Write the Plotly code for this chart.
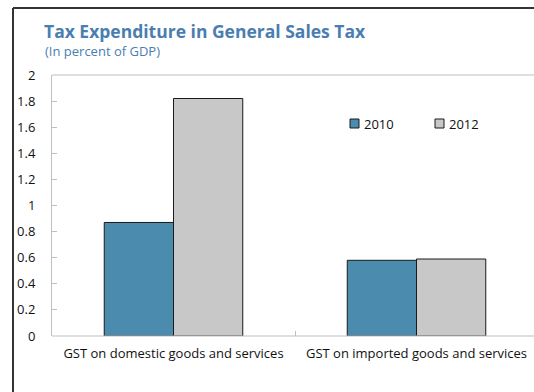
import plotly.graph_objects as go

# Data
categories = ["GST on domestic goods and services", "GST on imported goods and services"]
years = ["2010", "2012"]
values_2010 = [0.87, 0.58]
values_2012 = [1.82, 0.59]
y_ticks = [0, 0.2, 0.4, 0.6, 0.8, 1, 1.2, 1.4, 1.6, 1.8, 2]
y_tick_text = ["0", "0.2", "0.4", "0.6", "0.8", "1", "1.2", "1.4", "1.6", "1.8", "2"]

W, H = 534, 392
ML, MR, MT, MB = 52, 0, 75, 56
PW, PH = W - ML - MR, H - MT - MB

def px_x(x):
    return (x - ML) / PW

def px_y(y):
    return (H - MB - y) / PH

FONT = "Open Sans"
TITLE_BLUE = "#4a7eb0"
BAR_BLUE = "#4b8bae"
BAR_GRAY = "#c8c8c8"
EDGE = "#1a1a1a"
bar_colors = [BAR_BLUE, BAR_GRAY]

x_pos = list(range(len(categories)))

fig = go.Figure()
for name, vals, col in zip(years, [values_2010, values_2012], bar_colors):
    fig.add_trace(go.Bar(
        x=x_pos, y=vals, name=name, showlegend=False,
        marker=dict(color=col, line=dict(color=EDGE, width=1)),
    ))

cat_unit = 243.0
x_end = -0.5 + PW / cat_unit

# Compact legend: small square swatch followed closely by the year label
legend_shapes = []
legend_notes = []
legend_x = [350, 435]
for name, col, lx in zip(years, bar_colors, legend_x):
    legend_shapes.append(dict(
        type="rect", xref="paper", yref="paper",
        x0=px_x(lx), x1=px_x(lx + 9), y0=px_y(128), y1=px_y(119),
        fillcolor=col, line=dict(color=EDGE, width=1),
    ))
    legend_notes.append(dict(
        text=name, xref="paper", yref="paper", x=px_x(lx + 12), y=px_y(123.5),
        xanchor="left", yanchor="middle", showarrow=False,
        font=dict(family=FONT, size=13, color="#111"),
    ))

fig.update_layout(
    width=W, height=H,
    margin=dict(l=ML, r=MR, t=MT, b=MB, pad=0, autoexpand=False),
    paper_bgcolor="white", plot_bgcolor="white",
    barmode="group", bargap=0.43, bargroupgap=0,
    font=dict(family=FONT, size=13, color="#222"),
    showlegend=False,
    xaxis=dict(
        range=[-0.5, x_end], tickmode="array", tickvals=x_pos, ticktext=categories,
        ticks="", showgrid=False, zeroline=False, tickangle=0, automargin=False,
        showline=False,
        tickfont=dict(size=13, color="#111"), ticklabelstandoff=8,
        minor=dict(tickvals=[0.5], ticks="inside", ticklen=5, tickcolor="#bfbfbf", showgrid=False),
    ),
    yaxis=dict(
        range=[0, 2], tickmode="array", tickvals=y_ticks, ticktext=y_tick_text,
        ticks="inside", ticklen=5, tickcolor="#bfbfbf", automargin=False,
        showgrid=False, zeroline=False,
        showline=True, linecolor="#bfbfbf", linewidth=1,
        tickfont=dict(size=13, color="#111"), ticklabelstandoff=13,
    ),
    annotations=[
        dict(text="<b>Tax Expenditure in General Sales Tax</b>", xref="paper", yref="paper",
             x=px_x(42), y=px_y(31), xanchor="left", yanchor="middle", showarrow=False,
             font=dict(family=FONT, size=17.5, color=TITLE_BLUE)),
        dict(text="(In percent of GDP)", xref="paper", yref="paper",
             x=px_x(43), y=px_y(51), xanchor="left", yanchor="middle", showarrow=False,
             font=dict(family=FONT, size=13, color=TITLE_BLUE)),
    ] + legend_notes,
    shapes=[
        # outer frame: top and left edges
        dict(type="line", xref="paper", yref="paper", x0=px_x(13), x1=1.0,
             y0=px_y(8), y1=px_y(8), line=dict(color="#333", width=2)),
        dict(type="line", xref="paper", yref="paper", x0=px_x(13), x1=px_x(13),
             y0=px_y(8), y1=px_y(392), line=dict(color="#333", width=2)),
        # plot-area border: top and bottom edges
        dict(type="line", xref="paper", yref="paper", x0=0, x1=1.0, y0=1, y1=1,
             line=dict(color="#bfbfbf", width=1)),
        dict(type="line", xref="paper", yref="paper", x0=0, x1=1.0, y0=0, y1=0,
             line=dict(color="#bfbfbf", width=1)),
    ] + legend_shapes,
)

fig.write_html("out.html", config={"displayModeBar": False})
